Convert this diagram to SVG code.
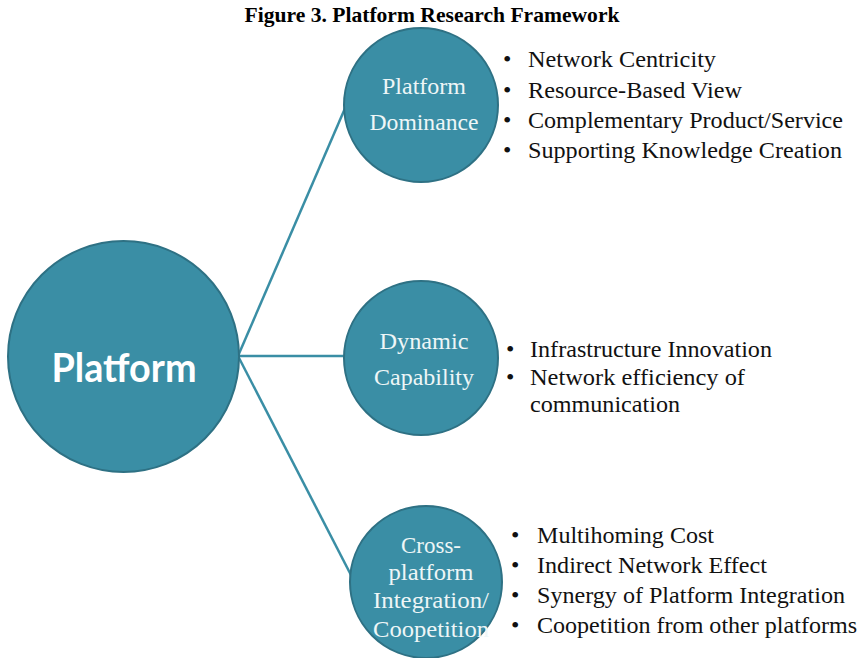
<svg xmlns="http://www.w3.org/2000/svg" width="864" height="658" viewBox="0 0 864 658">
<style>
.node{fill:#3A8EA5;stroke:#2E7184;stroke-width:2}
.conn{stroke:#3A8EA5;stroke-width:2.5;fill:none}
.lbl{font-family:"Liberation Serif","Times New Roman",serif;font-size:24px;fill:#EEF6F7;text-anchor:middle}
.item{font-family:"Liberation Serif","Times New Roman",serif;font-size:24px;fill:#111}
.title{font-family:"Liberation Serif","Times New Roman",serif;font-size:21px;font-weight:bold;fill:#000;text-anchor:middle}
.big{font-family:Lato,"Open Sans",sans-serif;font-size:40px;font-weight:bold;fill:#fff;text-anchor:middle}
</style>
<rect width="864" height="658" fill="#fff"/>
<text class="title" x="432" y="22" textLength="375" lengthAdjust="spacingAndGlyphs">Figure 3. Platform Research Framework</text>
<g id="connectors">
<line class="conn" x1="238" y1="356" x2="346" y2="106"/>
<line class="conn" x1="238" y1="356" x2="345" y2="356"/>
<line class="conn" x1="238" y1="356" x2="352" y2="577"/>
</g>
<g id="platform">
<circle class="node" cx="123.5" cy="356.5" r="115.5"/>
<text class="big" x="124" y="382" textLength="145" lengthAdjust="spacingAndGlyphs">Platform</text>
</g>
<g id="dominance">
<circle class="node" cx="421" cy="105" r="77"/>
<text class="lbl" x="424" y="94" textLength="84" lengthAdjust="spacingAndGlyphs">Platform</text>
<text class="lbl" x="424" y="130" textLength="109" lengthAdjust="spacingAndGlyphs">Dominance</text>
</g>
<g id="dynamic">
<circle class="node" cx="421" cy="358" r="77"/>
<text class="lbl" x="424" y="349" textLength="89" lengthAdjust="spacingAndGlyphs">Dynamic</text>
<text class="lbl" x="424" y="385" textLength="100" lengthAdjust="spacingAndGlyphs">Capability</text>
</g>
<g id="cross">
<circle class="node" cx="426" cy="582" r="76"/>
<text class="lbl" x="431" y="553" textLength="60" lengthAdjust="spacingAndGlyphs">Cross-</text>
<text class="lbl" x="431" y="580" textLength="85" lengthAdjust="spacingAndGlyphs">platform</text>
<text class="lbl" x="431" y="608" textLength="116" lengthAdjust="spacingAndGlyphs">Integration/</text>
<text class="lbl" x="431" y="637" textLength="116" lengthAdjust="spacingAndGlyphs">Coopetition</text>
</g>
<g id="dominance-items">
<text class="item" x="503" y="67">•</text><text class="item" x="528" y="67" textLength="188" lengthAdjust="spacingAndGlyphs">Network Centricity</text>
<text class="item" x="503" y="98">•</text><text class="item" x="528" y="98" textLength="214" lengthAdjust="spacingAndGlyphs">Resource-Based View</text>
<text class="item" x="503" y="128">•</text><text class="item" x="528" y="128" textLength="315" lengthAdjust="spacingAndGlyphs">Complementary Product/Service</text>
<text class="item" x="503" y="158">•</text><text class="item" x="528" y="158" textLength="314" lengthAdjust="spacingAndGlyphs">Supporting Knowledge Creation</text>
</g>
<g id="dynamic-items">
<text class="item" x="506" y="357">•</text><text class="item" x="530" y="357" textLength="242" lengthAdjust="spacingAndGlyphs">Infrastructure Innovation</text>
<text class="item" x="506" y="385">•</text><text class="item" x="530" y="385" textLength="215" lengthAdjust="spacingAndGlyphs">Network efficiency of</text>
<text class="item" x="530" y="412" textLength="150" lengthAdjust="spacingAndGlyphs">communication</text>
</g>
<g id="cross-items">
<text class="item" x="511" y="543">•</text><text class="item" x="537" y="543" textLength="177" lengthAdjust="spacingAndGlyphs">Multihoming Cost</text>
<text class="item" x="511" y="573">•</text><text class="item" x="537" y="573" textLength="230" lengthAdjust="spacingAndGlyphs">Indirect Network Effect</text>
<text class="item" x="511" y="603">•</text><text class="item" x="537" y="603" textLength="308" lengthAdjust="spacingAndGlyphs">Synergy of Platform Integration</text>
<text class="item" x="511" y="633">•</text><text class="item" x="537" y="633" textLength="320" lengthAdjust="spacingAndGlyphs">Coopetition from other platforms</text>
</g>
</svg>
